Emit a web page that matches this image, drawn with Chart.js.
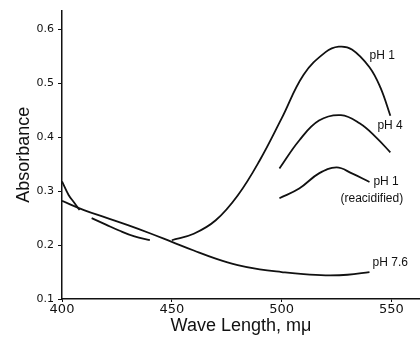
<!DOCTYPE html>
<html>
<head>
<meta charset="utf-8">
<script src="https://cdn.jsdelivr.net/npm/chart.js@4"></script>
<style>
  html, body { margin: 0; padding: 0; background: #fff; }
  #wrap { position: relative; width: 420px; height: 338px; }
</style>
</head>
<body>
<div id="wrap"><canvas id="chart" width="420" height="338"></canvas></div>
<script>
// wavelength (m\u03bc) and absorbance
const wlPh76 = [400, 410, 420, 430, 440, 450, 460, 470, 480, 490, 500, 510, 520, 530, 540];
const absPh76 = [0.282, 0.265, 0.251, 0.237, 0.222, 0.206, 0.190, 0.175, 0.163, 0.155, 0.150, 0.146, 0.144, 0.145, 0.150];

const wlPh1 = [450, 460, 470, 480, 490, 500, 510, 520, 526, 532, 540, 545, 549.5];
const absPh1 = [0.209, 0.221, 0.246, 0.292, 0.357, 0.435, 0.516, 0.558, 0.568, 0.563, 0.530, 0.492, 0.440];

const wlPh4 = [499, 508, 517, 527, 535.5, 543, 549.5];
const absPh4 = [0.342, 0.394, 0.431, 0.441, 0.426, 0.400, 0.372];

const wlReacid = [499, 508, 517, 525, 532, 540];
const absReacid = [0.287, 0.305, 0.333, 0.344, 0.333, 0.317];

// short pieces near 400-440 m\u03bc
const wlShortA = [400, 403, 405.5, 408];
const absShortA = [0.318, 0.293, 0.279, 0.265];
const wlShortB = [413.5, 420, 426, 433, 440];
const absShortB = [0.250, 0.238, 0.227, 0.216, 0.209];

const xTicks = [400, 450, 500, 550];
const yTicks = [0.1, 0.2, 0.3, 0.4, 0.5, 0.6];

// curve labels: [text, wavelength, absorbance]
const curveLabels = [
  ['pH 1', 540, 0.552],
  ['pH 4', 543.6, 0.422],
  ['pH 1', 541.8, 0.317],
  ['(reacidified)', 526.8, 0.287],
  ['pH 7.6', 541.4, 0.167]
];

const toPts = (xs, ys) => xs.map((x, i) => ({ x: x, y: ys[i] }));
const ink = '#111';

function series(xs, ys) {
  return {
    data: toPts(xs, ys),
    borderColor: ink,
    borderWidth: 1.8,
    pointRadius: 0,
    tension: 0.4,
    fill: false
  };
}

const labelPlugin = {
  id: 'curveLabels',
  afterDatasetsDraw(chart) {
    const ctx = chart.ctx;
    const xs = chart.scales.x, ys = chart.scales.y;
    ctx.save();
    ctx.fillStyle = ink;
    ctx.font = '12px "Liberation Sans"';
    ctx.textAlign = 'left';
    ctx.textBaseline = 'middle';
    curveLabels.forEach(l => {
      ctx.fillText(l[0], xs.getPixelForValue(l[1]), ys.getPixelForValue(l[2]));
    });
    ctx.restore();
  }
};

new Chart(document.getElementById('chart'), {
  type: 'line',
  data: {
    datasets: [
      series(wlPh76, absPh76),
      series(wlPh1, absPh1),
      series(wlPh4, absPh4),
      series(wlReacid, absReacid),
      series(wlShortA, absShortA),
      series(wlShortB, absShortB)
    ]
  },
  options: {
    responsive: false,
    animation: false,
    layout: { padding: { left: 0, top: 10, right: 0, bottom: 0 } },
    plugins: { legend: { display: false }, tooltip: { enabled: false } },
    scales: {
      x: {
        type: 'linear',
        min: 400,
        max: 563,
        afterFit(scale) { scale.height = 39; },
        afterBuildTicks(scale) { scale.ticks = xTicks.map(v => ({ value: v })); },
        grid: { drawOnChartArea: false, drawTicks: true, tickLength: 3, color: ink },
        border: { color: ink, width: 1.5 },
        ticks: {
          color: ink,
          padding: 0,
          maxRotation: 0,
          font: { family: 'DejaVu Sans', size: 13 }
        },
        title: {
          display: true,
          text: 'Wave Length, m\u03bc',
          color: ink,
          font: { family: 'Liberation Sans', size: 18 },
          padding: { top: 0, bottom: 1 }
        }
      },
      y: {
        min: 0.1,
        max: 0.635,
        afterFit(scale) { scale.width = 62; },
        afterBuildTicks(scale) { scale.ticks = yTicks.map(v => ({ value: v })); },
        grid: { drawOnChartArea: false, drawTicks: true, tickLength: 4, color: ink },
        border: { color: ink, width: 1.5 },
        ticks: {
          color: ink,
          padding: 4,
          font: { family: 'DejaVu Sans', size: 11 },
          callback: v => v.toFixed(1)
        },
        title: {
          display: true,
          text: 'Absorbance',
          color: ink,
          font: { family: 'Liberation Sans', size: 18 },
          padding: { top: 13, bottom: 0 }
        }
      }
    }
  },
  plugins: [labelPlugin]
});
</script>
</body>
</html>
